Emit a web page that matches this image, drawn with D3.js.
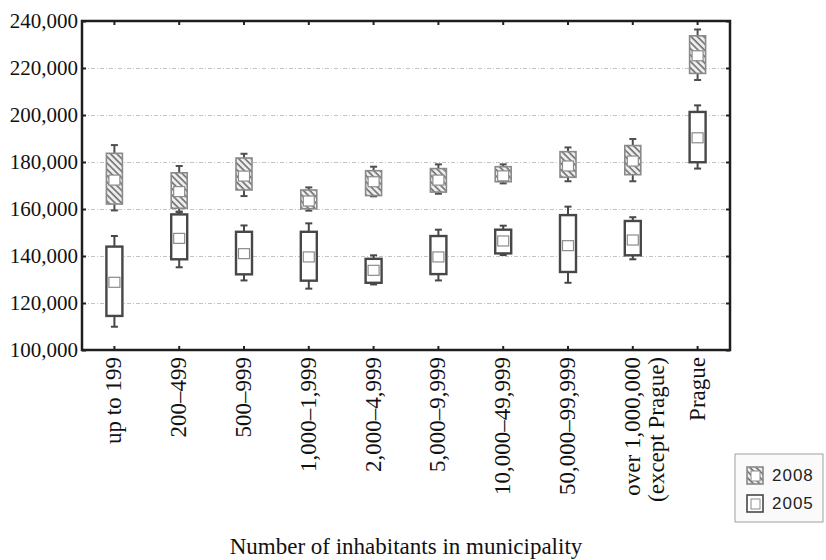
<!DOCTYPE html>
<html>
<head>
<meta charset="utf-8">
<script src="https://cdn.jsdelivr.net/npm/d3@7/dist/d3.min.js"></script>
<style>
  body { margin: 0; background: #fff; }
  svg { display: block; }
</style>
</head>
<body>
<svg width="826" height="560"></svg>
<script>
// categories along the x axis
const categories = ["up to 199", "200–499", "500–999", "1,000–1,999", "2,000–4,999",
  "5,000–9,999", "10,000–49,999", "50,000–99,999", "over 1,000,000\n(except Prague)", "Prague"];

// 2005: whisker low, box bottom, median, box top, whisker high
const low2005 = [109900, 135200, 129600, 126100, 127900, 129600, 140400, 128600, 138600, 177200];
const q1_2005 = [114500, 138600, 132200, 129500, 128600, 132300, 141100, 133200, 140300, 179900];
const med2005 = [128800, 147500, 141000, 139600, 133900, 139600, 146400, 144400, 146800, 190300];
const q3_2005 = [144000, 157700, 150300, 150300, 138800, 148500, 151200, 157400, 154900, 201300];
const high2005 = [148500, 158700, 153000, 153900, 140300, 151200, 152900, 161000, 156500, 204100];

// 2008
const low2008 = [159400, 158900, 165500, 159300, 165400, 166500, 170900, 171800, 171800, 214900];
const q1_2008 = [162100, 160300, 168100, 160100, 165700, 167200, 171600, 173500, 174600, 217700];
const med2008 = [172300, 167400, 174000, 163400, 171600, 172300, 174100, 178300, 180400, 225200];
const q3_2008 = [183700, 175400, 181700, 168100, 176300, 177200, 178000, 184400, 187000, 233700];
const high2008 = [187200, 178300, 183500, 169200, 178000, 179000, 179000, 186200, 189800, 236400];

const yTicks = [100000, 120000, 140000, 160000, 180000, 200000, 220000, 240000];

let svg = d3.select("svg");
let plotLeft = 82, plotRight = 730, plotTop = 21, plotBottom = 350;

let x = d3.scaleBand().domain(categories).range([plotLeft, plotRight]).padding(0);
let y = d3.scaleLinear().domain([100000, 240000]).range([plotBottom, plotTop]);

// hatch pattern for 2008 boxes
let defs = svg.append("defs");
let pat = defs.append("pattern")
  .attr("id", "hatch")
  .attr("patternUnits", "userSpaceOnUse")
  .attr("width", 4.5)
  .attr("height", 4.5)
  .attr("patternTransform", "rotate(-45)");
pat.append("rect").attr("width", 4.5).attr("height", 4.5).attr("fill", "#eeeeee");
pat.append("line")
  .attr("x1", 1).attr("y1", 0).attr("x2", 1).attr("y2", 4.5)
  .attr("stroke", "#6f6f6f").attr("stroke-width", 1.6);

// gridlines
svg.append("g")
  .attr("class", "grid")
  .attr("transform", "translate(" + plotLeft + ",0)")
  .call(d3.axisLeft(y).tickValues(yTicks.slice(1, -1)).tickSize(-(plotRight - plotLeft)).tickFormat(""))
  .call(g => g.select(".domain").remove())
  .call(g => g.selectAll("line")
    .attr("stroke", "#c4c4c4")
    .attr("stroke-width", 1)
    .attr("stroke-dasharray", "4,2,1,2"));

// left axis
svg.append("g")
  .attr("transform", "translate(" + plotLeft + ",0)")
  .call(d3.axisLeft(y).tickValues(yTicks).tickSizeInner(-4).tickSizeOuter(0).tickPadding(4)
    .tickFormat(d3.format(",")))
  .call(g => g.select(".domain").remove())
  .call(g => g.selectAll("line").attr("stroke", "#222").attr("stroke-width", 2))
  .call(g => g.selectAll("text")
    .attr("font-family", "'Liberation Serif', 'Times New Roman', serif")
    .attr("font-size", 21)
    .attr("fill", "#111"));

// right axis ticks
svg.append("g")
  .attr("transform", "translate(" + plotRight + ",0)")
  .call(d3.axisRight(y).tickValues(yTicks).tickSizeInner(-4).tickSizeOuter(0).tickFormat(""))
  .call(g => g.select(".domain").remove())
  .call(g => g.selectAll("line").attr("stroke", "#222").attr("stroke-width", 2));

// top axis ticks
svg.append("g")
  .attr("transform", "translate(0," + plotTop + ")")
  .call(d3.axisTop(x).tickSizeInner(-4).tickSizeOuter(0).tickFormat(""))
  .call(g => g.select(".domain").remove())
  .call(g => g.selectAll("line").attr("stroke", "#222").attr("stroke-width", 2));

// bottom axis with rotated labels
let xAxis = svg.append("g")
  .attr("transform", "translate(0," + plotBottom + ")")
  .call(d3.axisBottom(x).tickSizeInner(-4).tickSizeOuter(0));
xAxis.select(".domain").remove();
xAxis.selectAll("line").attr("stroke", "#222").attr("stroke-width", 2);
xAxis.selectAll("text")
  .attr("font-family", "'Liberation Serif', 'Times New Roman', serif")
  .attr("font-size", 23)
  .attr("fill", "#111")
  .attr("text-anchor", "end")
  .attr("transform", "rotate(-90)")
  .attr("y", 0)
  .attr("dy", null)
  .each(function(d) {
    let t = d3.select(this);
    let lines = d.split("\n");
    t.text(null);
    lines.forEach(function(line, i) {
      t.append("tspan")
        .attr("x", -7)
        .attr("dy", i == 0 ? "0.3em" : "1.05em")
        .text(line);
    });
  });

// frame
svg.append("rect")
  .attr("x", plotLeft).attr("y", plotTop)
  .attr("width", plotRight - plotLeft).attr("height", plotBottom - plotTop)
  .attr("fill", "none")
  .attr("stroke", "#1e1e1e")
  .attr("stroke-width", 2.5);

// box drawing
function drawBoxes(cls, lows, q1s, meds, q3s, highs, boxFill, boxStroke, boxWidth, whiskerColor) {
  let rows = categories.map(function(c, i) {
    return { cat: c, low: lows[i], q1: q1s[i], med: meds[i], q3: q3s[i], high: highs[i] };
  });
  let bw = 16, cap = 7, ms = 10;
  let g = svg.append("g").attr("class", cls);
  let item = g.selectAll("g").data(rows).enter().append("g")
    .attr("transform", d => "translate(" + (x(d.cat) + x.bandwidth() / 2) + ",0)");

  // whiskers
  item.append("line")
    .attr("x1", 0).attr("x2", 0)
    .attr("y1", d => y(d.high)).attr("y2", d => y(d.q3))
    .attr("stroke", whiskerColor).attr("stroke-width", 2);
  item.append("line")
    .attr("x1", 0).attr("x2", 0)
    .attr("y1", d => y(d.q1)).attr("y2", d => y(d.low))
    .attr("stroke", whiskerColor).attr("stroke-width", 2);
  item.append("line")
    .attr("x1", -cap / 2).attr("x2", cap / 2)
    .attr("y1", d => y(d.high)).attr("y2", d => y(d.high))
    .attr("stroke", whiskerColor).attr("stroke-width", 2);
  item.append("line")
    .attr("x1", -cap / 2).attr("x2", cap / 2)
    .attr("y1", d => y(d.low)).attr("y2", d => y(d.low))
    .attr("stroke", whiskerColor).attr("stroke-width", 2);

  // box
  item.append("rect")
    .attr("x", -bw / 2)
    .attr("y", d => y(d.q3))
    .attr("width", bw)
    .attr("height", d => y(d.q1) - y(d.q3))
    .attr("fill", boxFill)
    .attr("stroke", boxStroke)
    .attr("stroke-width", boxWidth);

  // median square
  item.append("rect")
    .attr("x", -ms / 2 - 0.5)
    .attr("y", d => y(d.med) - ms / 2)
    .attr("width", ms + 1)
    .attr("height", ms)
    .attr("fill", "#fff")
    .attr("stroke", "#8c8c8c")
    .attr("stroke-width", 1.2);
}

drawBoxes("y2005", low2005, q1_2005, med2005, q3_2005, high2005, "#fff", "#474747", 2.4, "#474747");
drawBoxes("y2008", low2008, q1_2008, med2008, q3_2008, high2008, "url(#hatch)", "#8a8a8a", 1.6, "#4f4f4f");

// x axis title
svg.append("text")
  .attr("x", (plotLeft + plotRight) / 2)
  .attr("y", 554)
  .attr("text-anchor", "middle")
  .attr("font-family", "'Liberation Serif', 'Times New Roman', serif")
  .attr("font-size", 23)
  .attr("fill", "#111")
  .text("Number of inhabitants in municipality");

// legend
let legend = svg.append("g").attr("transform", "translate(735,454)");
legend.append("rect")
  .attr("width", 88).attr("height", 68)
  .attr("fill", "#fafafa")
  .attr("stroke", "#a0a0a0")
  .attr("stroke-width", 1);

let legendItems = [
  { label: "2008", fill: "url(#hatch)", stroke: "#8a8a8a", y: 13 },
  { label: "2005", fill: "#fff", stroke: "#474747", y: 41 }
];
legendItems.forEach(function(it) {
  legend.append("rect")
    .attr("x", 12).attr("y", it.y)
    .attr("width", 16).attr("height", 17)
    .attr("fill", it.fill)
    .attr("stroke", it.stroke)
    .attr("stroke-width", 1.6);
  legend.append("rect")
    .attr("x", 16).attr("y", it.y + 4)
    .attr("width", 9).attr("height", 10)
    .attr("fill", "#fff")
    .attr("stroke", "#8c8c8c")
    .attr("stroke-width", 1);
  legend.append("text")
    .attr("x", 37).attr("y", it.y + 8.5)
    .attr("dy", "0.35em")
    .attr("font-family", "'Liberation Sans', Arial, sans-serif")
    .attr("font-size", 17)
    .attr("letter-spacing", 1)
    .attr("fill", "#222")
    .text(it.label);
});
</script>
</body>
</html>
